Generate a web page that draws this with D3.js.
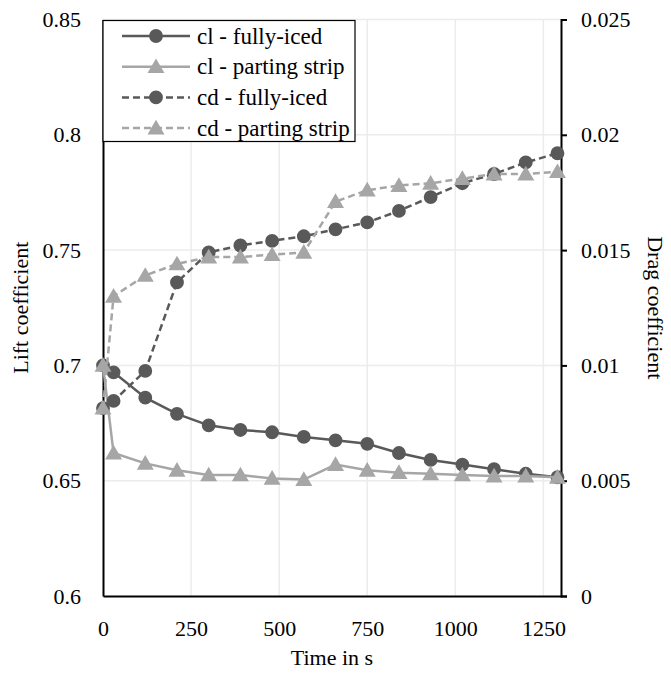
<!DOCTYPE html>
<html lang="en">
<head>
    <meta charset="utf-8">
    <title>Lift and drag coefficient over time</title>
    <script src="https://d3js.org/d3.v7.min.js"></script>
    <style>
        body {
            margin: 0;
            background: #ffffff;
        }
        svg text {
            font-family: "Liberation Serif", "DejaVu Serif", "Times New Roman", Times, serif;
            fill: #000000;
        }
    </style>
</head>
<body>
    <svg id="chart" width="671" height="677"></svg>

    <script>
        // Time values (s)
        const times = [0, 30, 120, 210, 300, 390, 480, 570, 660, 750, 840, 930, 1020, 1110, 1200, 1290];

        // Lift coefficient (left axis)
        const clFullyIced = [0.700, 0.697, 0.686, 0.679, 0.674, 0.672, 0.671, 0.669, 0.6675, 0.666, 0.662, 0.659, 0.657, 0.655, 0.653, 0.6515];
        const clPartingStrip = [0.700, 0.662, 0.6575, 0.6545, 0.6525, 0.6525, 0.651, 0.6505, 0.657, 0.6545, 0.6535, 0.653, 0.6525, 0.652, 0.652, 0.6515];

        // Drag coefficient (right axis)
        const cdFullyIced = [0.00815, 0.00846, 0.00976, 0.0136, 0.0149, 0.0152, 0.0154, 0.0156, 0.0159, 0.0162, 0.0167, 0.0173, 0.0179, 0.0183, 0.0188, 0.0192];
        const cdPartingStrip = [0.00815, 0.0130, 0.0139, 0.0144, 0.0147, 0.0147, 0.0148, 0.0149, 0.0171, 0.0176, 0.0178, 0.0179, 0.0181, 0.0183, 0.0183, 0.0184];

        const xTicks = [0, 250, 500, 750, 1000, 1250];
        const leftTicks = [0.6, 0.65, 0.7, 0.75, 0.8, 0.85];
        const rightTicks = [0, 0.005, 0.01, 0.015, 0.02, 0.025];

        const seriesNames = ["cl - fully-iced", "cl - parting strip", "cd - fully-iced", "cd - parting strip"];

        const dark = "#595959", light = "#a6a6a6";
        const serif = "'Liberation Serif', 'DejaVu Serif', 'Times New Roman', Times, serif";

        const svg = d3.select("#chart");
        const margin = { top: 19.5, right: 110, bottom: 81, left: 103 };
        const width = 671, height = 677;

        const x = d3.scaleLinear().domain([0, 1300]).range([margin.left, width - margin.right]);
        const yL = d3.scaleLinear().domain([0.6, 0.85]).range([height - margin.bottom, margin.top]);
        const yR = d3.scaleLinear().domain([0, 0.025]).range([height - margin.bottom, margin.top]);

        // Gridlines
        const grid = svg.append("g");
        grid.selectAll("line.v")
            .data(xTicks.filter(d => d > 0))
            .enter().append("line")
            .attr("x1", d => x(d)).attr("x2", d => x(d))
            .attr("y1", yL(0.6)).attr("y2", yL(0.85))
            .attr("stroke", "#ececec").attr("stroke-width", 1.5);
        grid.selectAll("line.h")
            .data(leftTicks.filter(d => d > 0.6))
            .enter().append("line")
            .attr("x1", x(0)).attr("x2", x(1300))
            .attr("y1", d => yL(d)).attr("y2", d => yL(d))
            .attr("stroke", "#ececec").attr("stroke-width", 1.5);

        // Axes
        const xAxis = svg.append("g")
            .attr("transform", `translate(0,${yL(0.6)})`)
            .call(d3.axisBottom(x).tickValues(xTicks).tickSize(0).tickPadding(20).tickFormat(d3.format("d")));
        const leftAxis = svg.append("g")
            .attr("transform", `translate(${x(0)},0)`)
            .call(d3.axisLeft(yL).tickValues(leftTicks).tickSize(0).tickPadding(22).tickFormat(d => String(+d.toFixed(2))));
        const rightAxis = svg.append("g")
            .attr("transform", `translate(${x(1300)},0)`)
            .call(d3.axisRight(yR).tickValues(rightTicks).tickSize(6).tickPadding(14).tickFormat(d => String(+d.toFixed(3))));

        [xAxis, leftAxis, rightAxis].forEach(a => {
            a.attr("font-family", null).attr("font-size", null);
            a.select(".domain").attr("stroke", "#000").attr("stroke-width", 2);
            a.selectAll(".tick line").attr("stroke", "#000").attr("stroke-width", 2);
            a.selectAll(".tick text").style("font-size", "22px").style("font-family", serif);
        });
        xAxis.selectAll(".tick text").attr("dy", "0.9em");

        // Axis titles
        svg.append("text")
            .attr("transform", `translate(28,${(yL(0.6) + yL(0.85)) / 2}) rotate(-90)`)
            .attr("text-anchor", "middle")
            .style("font-size", "22px")
            .style("font-family", serif)
            .text("Lift coefficient");
        svg.append("text")
            .attr("transform", `translate(648,${(yL(0.6) + yL(0.85)) / 2}) rotate(90)`)
            .attr("text-anchor", "middle")
            .style("font-size", "22px")
            .style("font-family", serif)
            .text("Drag coefficient");
        svg.append("text")
            .attr("x", (x(0) + x(1300)) / 2)
            .attr("y", 665)
            .attr("text-anchor", "middle")
            .style("font-size", "22px")
            .style("font-family", serif)
            .text("Time in s");

        const series = [
            { name: seriesNames[0], values: clFullyIced, y: yL, color: dark, dash: null, marker: "circle" },
            { name: seriesNames[1], values: clPartingStrip, y: yL, color: light, dash: null, marker: "triangle" },
            { name: seriesNames[2], values: cdFullyIced, y: yR, color: dark, dash: "7,4", marker: "circle" },
            { name: seriesNames[3], values: cdPartingStrip, y: yR, color: light, dash: "7,4", marker: "triangle" }
        ];

        const circleSym = d3.symbol().type(d3.symbolCircle).size(150);
        const triSym = d3.symbol().type(d3.symbolTriangle).size(125);

        series.forEach(s => {
            const pts = times.map((t, i) => [t, s.values[i]]);
            const line = d3.line().x(d => x(d[0])).y(d => s.y(d[1]));
            svg.append("path")
                .datum(pts)
                .attr("d", line)
                .attr("fill", "none")
                .attr("stroke", s.color)
                .attr("stroke-width", 2.5)
                .attr("stroke-dasharray", s.dash);
            svg.append("g").selectAll("path")
                .data(pts)
                .enter().append("path")
                .attr("transform", d => `translate(${x(d[0])},${s.y(d[1]) + (s.marker === "triangle" ? 1.5 : 0)})`)
                .attr("d", s.marker === "circle" ? circleSym : triSym)
                .attr("fill", s.color);
        });

        // Legend
        const legend = svg.append("g").attr("transform", `translate(${x(0)},${yL(0.85)})`);
        legend.append("rect")
            .attr("x", 0).attr("y", 1)
            .attr("width", 252).attr("height", 121)
            .attr("fill", "#ffffff")
            .attr("stroke", "#000")
            .attr("stroke-width", 1.2);
        series.forEach((s, i) => {
            const cy = 16.5 + i * 30.7;
            legend.append("line")
                .attr("x1", 19).attr("x2", 87)
                .attr("y1", cy).attr("y2", cy)
                .attr("stroke", s.color)
                .attr("stroke-width", 2.5)
                .attr("stroke-dasharray", s.dash);
            legend.append("path")
                .attr("transform", `translate(53,${cy + (s.marker === "triangle" ? 1.5 : 0)})`)
                .attr("d", s.marker === "circle" ? circleSym : triSym)
                .attr("fill", s.color);
            legend.append("text")
                .attr("x", 94).attr("y", cy)
                .attr("dy", "0.33em")
                .style("font-size", "23px")
                .style("font-family", serif)
                .text(s.name);
        });
    </script>
</body>
</html>
